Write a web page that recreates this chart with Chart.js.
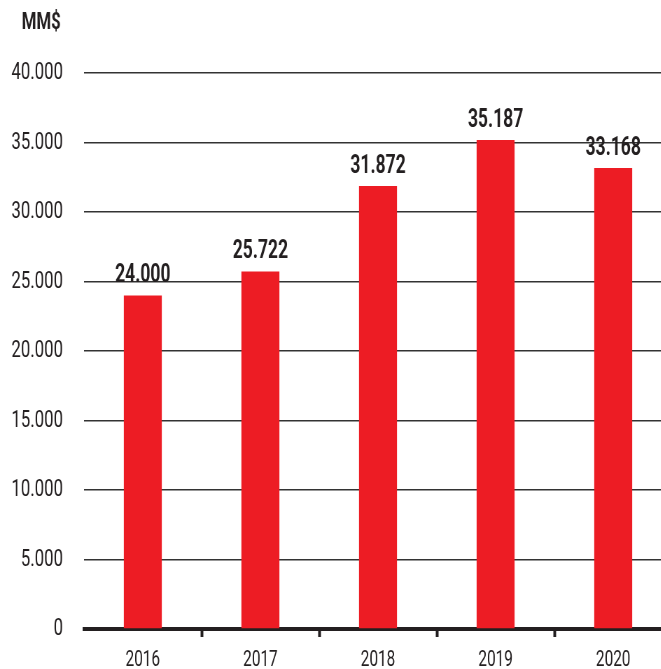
<!DOCTYPE html>
<html>
<head>
<meta charset="utf-8">
<script src="https://cdn.jsdelivr.net/npm/chart.js@4/dist/chart.umd.min.js"></script>
<style>
html,body{margin:0;padding:0;background:#fff;overflow:hidden;width:661px;height:669px;}
#wrap{width:661px;height:669px;overflow:hidden;position:relative;}
#c{display:block;position:absolute;left:0;top:0;width:672px;height:669px;}
</style>
</head>
<body>
<div id="wrap"><canvas id="c" width="960" height="669" style="width:672px;height:669px;"></canvas></div>
<script>
const categories = ['2016', '2017', '2018', '2019', '2020'];
const values = [24000, 25722, 31872, 35187, 33168];
const valueLabels = ['24.000', '25.722', '31.872', '35.187', '33.168'];
const yTicks = [0, 5000, 10000, 15000, 20000, 25000, 30000, 35000, 40000];
const unitTitle = 'MM$';

// The canvas is drawn 960 units wide and shown 672px wide, so all text looks condensed.
const FONT = "Roboto, 'Liberation Sans', sans-serif";
const INK = '#231f20';
const RED = '#ed1c24';

function fmt(v){ return String(v).replace(/\B(?=(\d{3})+(?!\d))/g, '.'); }

const valueLabelPlugin = {
  id: 'valueLabels',
  afterDatasetsDraw(chart){
    const ctx = chart.ctx;
    const meta = chart.getDatasetMeta(0);
    ctx.save();
    ctx.font = "bold 25px " + FONT;
    ctx.fillStyle = INK;
    ctx.textAlign = 'center';
    ctx.textBaseline = 'alphabetic';
    meta.data.forEach((bar, i) => {
      ctx.fillText(valueLabels[i], bar.x, bar.y - 13);
    });
    ctx.restore();
  }
};

const unitTitlePlugin = {
  id: 'unitTitle',
  afterDraw(chart){
    const ctx = chart.ctx;
    ctx.save();
    ctx.font = "bold 24px " + FONT;
    ctx.fillStyle = INK;
    ctx.textAlign = 'left';
    ctx.textBaseline = 'middle';
    ctx.fillText(unitTitle, 31, 23);
    ctx.restore();
  }
};

new Chart(document.getElementById('c'), {
  type: 'bar',
  data: {
    labels: categories,
    datasets: [{
      data: values,
      backgroundColor: RED,
      borderWidth: 0,
      barPercentage: 0.323,
      categoryPercentage: 1
    }]
  },
  options: {
    responsive: false,
    animation: false,
    devicePixelRatio: 1,
    layout: { padding: { left: 0, right: 0, top: 73, bottom: 0 } },
    plugins: {
      legend: { display: false },
      tooltip: { enabled: false },
      title: { display: false }
    },
    scales: {
      x: {
        offset: true,
        grid: {
          offset: true,
          drawOnChartArea: false,
          drawTicks: true,
          tickLength: 8,
          tickWidth: 4,
          color: (c) => c.index === 0 ? 'rgba(0,0,0,0)' : INK
        },
        border: { display: true, color: INK, width: 4 },
        ticks: {
          color: INK,
          font: { family: FONT, size: 22 },
          padding: 10
        },
        afterFit(scale){ scale.height = 40; }
      },
      y: {
        min: 0,
        max: 40000,
        afterBuildTicks(scale){ scale.ticks = yTicks.map(v => ({ value: v })); },
        grid: {
          drawTicks: false,
          color: (c) => c.tick && c.tick.value === 0 ? 'rgba(0,0,0,0)' : '#333',
          lineWidth: 1.5
        },
        border: { display: false },
        ticks: {
          color: INK,
          font: { family: FONT, size: 24 },
          padding: 30,
          callback: (v) => fmt(v)
        },
        afterFit(scale){
          scale.width = 120;
          scale.paddingTop = 0;
          scale.paddingBottom = 0;
        }
      }
    }
  },
  plugins: [valueLabelPlugin, unitTitlePlugin]
});
</script>
</body>
</html>
